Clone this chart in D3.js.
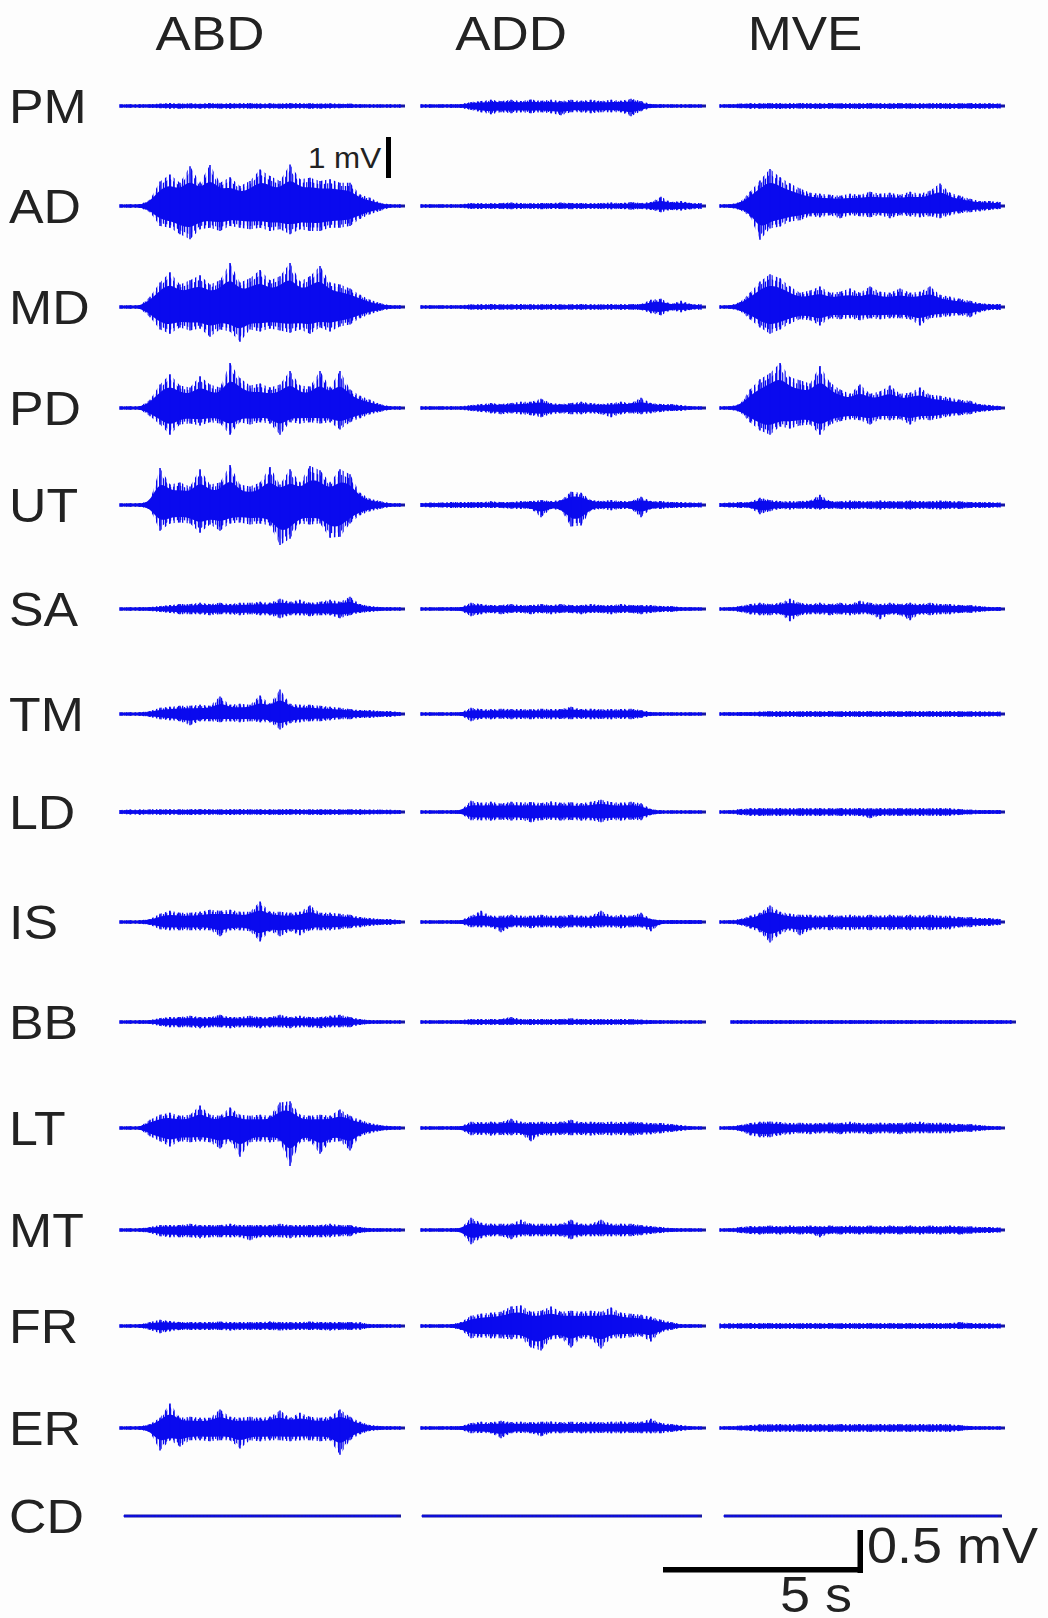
<!DOCTYPE html>
<html>
<head>
<meta charset="utf-8">
<script src="https://cdn.jsdelivr.net/npm/d3@7"></script>
<style>
html, body { margin: 0; padding: 0; background: #fdfdfd; }
svg { display: block; }
text { font-family: "Liberation Sans", Arial, sans-serif; fill: #222; }
</style>
</head>
<body>
<svg id="chart" width="1048" height="1618"></svg>
<script>
// tasks (columns) and muscles (rows)
var tasks = ["ABD", "ADD", "MVE"];
var muscles = ["PM", "AD", "MD", "PD", "UT", "SA", "TM", "LD", "IS", "BB", "LT", "MT", "FR", "ER", "CD"];

// EMG envelope: peak amplitude (µV) in 0.25 s windows,
// hi = positive peaks, lo = negative peaks, one entry per task
var PM = [
  {hi: [40,40,40,40,60,75,60,70,55,75,60,70,65,75,60,70,60,75,65,70,60,70,55,60,40,40,40,40,40],
   lo: [40,40,40,40,55,65,70,60,70,60,65,70,60,70,65,60,70,65,60,70,65,60,55,50,40,40,40,40,40]},
  {hi: [40,40,40,40,50,100,125,150,125,150,125,160,130,150,120,150,130,155,125,150,130,175,125,50,40,40,40,40,40],
   lo: [40,40,40,40,50,100,150,200,150,175,150,175,150,175,225,150,150,175,150,150,150,250,125,50,40,40,40,40,40]},
  {hi: [40,40,60,70,65,75,70,65,75,70,65,75,70,70,65,75,70,65,75,70,65,70,75,65,70,75,65,70,60],
   lo: [40,40,55,65,70,65,75,70,65,70,75,65,70,70,75,65,70,75,65,70,70,65,70,75,65,70,70,65,60]}
];
var AD = [
  {hi: [40,40,40,150,600,770,570,970,570,1000,570,700,490,610,890,730,610,1010,650,690,610,650,570,570,280,200,80,40,40],
   lo: [40,40,40,150,490,530,690,810,570,530,610,490,530,570,530,610,570,690,570,610,610,530,530,490,320,200,120,40,40]},
  {hi: [40,40,40,40,40,75,70,65,75,85,75,65,75,75,85,75,75,65,75,85,75,100,75,100,225,100,125,75,75],
   lo: [40,40,40,40,40,75,75,70,75,80,75,70,80,75,75,80,75,70,75,80,75,90,75,100,150,100,110,80,75]},
  {hi: [40,40,100,350,625,900,700,550,425,325,300,275,250,300,275,350,300,325,275,350,300,375,550,325,250,175,125,125,100],
   lo: [40,40,100,250,825,550,500,375,350,250,275,225,300,225,250,275,225,300,225,250,275,250,300,225,175,150,125,100,75]}
];
var MD = [
  {hi: [40,40,40,250,600,850,550,650,775,550,650,1075,600,700,900,650,750,1075,625,750,1000,600,550,450,300,175,100,40,40],
   lo: [40,40,40,250,550,650,500,575,525,725,550,600,850,550,600,525,575,625,550,650,500,600,475,425,275,175,100,50,40]},
  {hi: [40,40,40,40,40,65,65,75,65,65,75,65,65,75,65,65,75,65,65,75,65,75,75,175,200,75,150,75,65],
   lo: [40,40,40,40,40,65,70,65,70,65,70,65,70,65,70,65,70,65,70,65,70,70,75,150,200,80,125,70,65]},
  {hi: [40,40,125,350,625,800,700,500,350,400,500,350,375,450,350,500,375,350,450,350,375,500,300,250,200,150,100,75,75],
   lo: [40,40,100,300,500,650,550,400,300,325,450,275,300,275,325,275,300,275,275,300,450,275,250,225,200,250,125,75,75]}
];
var PD = [
  {hi: [40,40,40,200,575,825,550,500,775,575,500,1100,725,550,600,500,575,900,550,525,900,500,900,450,300,200,100,40,40],
   lo: [40,40,40,200,400,650,400,375,425,350,375,650,350,400,350,375,650,350,375,350,375,350,525,350,250,150,100,40,40]},
  {hi: [40,40,40,40,40,75,100,125,100,125,150,150,225,125,100,125,150,125,100,125,150,125,250,125,100,100,75,40,40],
   lo: [40,40,40,40,40,75,100,125,150,125,150,175,225,150,125,150,150,125,150,225,150,125,150,125,100,75,75,40,40]},
  {hi: [40,40,100,450,700,850,1100,750,675,600,1025,625,450,350,575,350,400,550,350,375,500,325,300,250,200,175,100,75,50],
   lo: [40,40,100,350,550,650,450,500,425,400,650,400,325,275,300,400,275,300,275,400,275,300,250,200,175,150,100,75,50]}
];
var UT = [
  {hi: [40,40,40,100,900,500,550,450,875,500,550,975,500,450,550,925,500,875,550,950,850,550,875,750,300,150,100,50,40],
   lo: [40,40,40,100,625,450,425,450,675,475,625,450,425,475,450,500,975,825,450,475,450,800,775,450,250,150,100,50,40]},
  {hi: [50,60,60,75,75,75,75,90,75,75,100,100,125,100,125,325,300,125,100,125,100,100,200,100,100,75,75,60,60],
   lo: [50,60,60,75,75,75,75,75,75,90,100,100,300,100,125,525,500,125,100,125,100,100,300,100,100,75,75,60,60]},
  {hi: [50,60,75,75,175,125,100,90,100,110,250,100,90,110,100,90,110,100,90,110,100,90,110,100,90,75,75,70,60],
   lo: [50,60,75,75,225,150,100,110,90,100,110,90,100,110,90,100,110,90,100,110,90,100,110,90,100,75,75,70,60]}
];
var SA = [
  {hi: [40,40,40,50,75,100,125,125,150,125,150,125,150,150,175,150,250,175,225,150,175,225,175,300,125,75,50,40,40],
   lo: [40,40,40,50,75,100,125,125,125,150,125,125,150,125,150,150,225,150,150,175,150,150,225,150,100,75,50,40,40]},
  {hi: [40,40,40,40,50,150,125,100,100,125,100,100,125,100,125,100,100,125,100,100,125,100,100,100,75,75,50,40,40],
   lo: [40,40,40,40,50,175,125,100,125,100,100,125,100,125,100,100,125,100,100,125,100,100,125,100,75,75,50,40,40]},
  {hi: [40,40,75,125,150,125,150,250,150,125,150,125,150,125,200,150,125,150,125,150,125,150,125,125,100,100,75,50,50],
   lo: [40,40,75,125,150,150,125,300,150,125,125,150,125,150,125,125,250,125,150,275,125,150,125,125,100,100,75,50,50]}
];
var TM = [
  {hi: [40,40,40,75,150,175,200,200,225,200,425,225,250,225,450,250,600,250,225,225,200,175,150,125,100,100,75,75,50],
   lo: [40,40,40,75,125,150,175,275,175,175,200,175,200,175,200,200,375,225,200,175,175,150,125,125,100,100,75,75,50]},
  {hi: [40,40,40,40,40,150,125,115,130,120,125,115,130,120,125,175,120,130,115,125,120,130,100,50,40,40,40,40,40],
   lo: [40,40,40,40,40,175,120,130,115,125,120,130,115,125,120,130,115,125,120,130,115,125,100,50,40,40,40,40,40]},
  {hi: [40,40,50,50,60,75,70,75,70,75,70,75,70,75,70,75,70,75,70,75,70,75,70,75,70,70,65,60,60],
   lo: [40,40,50,50,60,70,75,70,75,70,75,70,75,70,75,70,75,70,75,70,75,70,75,70,75,70,65,60,60]}
];
var LD = [
  {hi: [50,60,60,65,70,70,65,70,75,70,65,70,75,70,70,65,70,75,70,65,70,70,65,70,65,60,60,55,50],
   lo: [50,60,65,60,70,65,70,75,70,65,70,75,70,65,70,70,75,70,65,70,75,70,70,65,70,60,55,55,50]},
  {hi: [40,40,40,40,50,275,225,250,210,250,230,245,220,255,225,240,215,250,300,245,225,250,215,75,40,40,40,40,40],
   lo: [40,40,40,40,50,200,200,210,190,205,195,250,200,190,210,195,205,200,250,195,210,190,200,75,40,40,40,40,40]},
  {hi: [40,40,75,90,100,90,100,90,100,90,100,90,100,90,100,90,100,90,100,90,100,90,100,90,75,60,50,50,50],
   lo: [40,40,75,90,100,90,100,90,100,90,100,90,100,90,100,150,100,90,100,90,100,90,100,90,75,60,50,50,50]}
];
var IS = [
  {hi: [40,40,40,75,200,275,225,225,250,300,275,300,250,250,500,250,250,225,250,400,225,225,200,175,125,100,75,75,50],
   lo: [40,40,40,75,175,200,200,200,200,200,350,200,200,225,475,225,350,225,325,200,200,200,175,150,125,100,75,75,50]},
  {hi: [40,40,40,40,50,150,275,150,150,175,150,150,175,150,150,175,150,150,275,150,175,150,225,75,50,50,50,50,50],
   lo: [40,40,40,40,50,125,125,125,250,125,125,150,125,125,150,125,125,150,125,125,150,125,125,225,50,50,50,50,50]},
  {hi: [40,40,75,150,225,400,250,200,175,175,150,175,150,175,150,175,150,175,150,175,150,175,150,150,125,125,100,100,75],
   lo: [40,40,75,150,250,500,300,200,325,200,175,200,175,200,175,200,175,200,175,200,175,200,175,175,125,125,100,100,75]}
];
var BB = [
  {hi: [40,40,40,50,100,125,125,150,125,125,175,125,125,150,125,125,175,125,150,125,125,150,175,125,75,50,40,40,40],
   lo: [40,40,40,50,100,125,125,125,150,125,125,150,125,125,150,125,125,150,125,125,150,125,125,125,75,50,40,40,40]},
  {hi: [40,40,40,40,50,75,75,75,75,125,75,75,75,75,75,90,75,75,75,75,75,75,60,50,40,40,40,40,40],
   lo: [40,40,40,40,50,70,75,70,75,75,70,75,70,75,70,75,70,75,70,75,70,70,60,50,40,40,40,40,40]},
  {hi: [40,45,50,45,50,45,50,45,50,45,50,45,50,45,50,45,50,45,50,45,50,45,50,45,50,45,50,45,40],
   lo: [40,45,50,45,50,45,50,45,50,45,50,45,50,45,50,45,50,45,50,45,50,45,50,45,50,45,50,45,40]}
];
var LT = [
  {hi: [40,40,40,200,325,375,300,325,550,325,300,500,325,300,325,300,625,650,325,300,325,300,450,300,200,125,75,50,40],
   lo: [40,40,40,200,325,450,325,350,325,350,500,325,700,350,325,350,325,925,350,325,625,350,325,550,200,125,75,50,40]},
  {hi: [40,40,40,40,50,150,140,155,145,225,150,140,155,145,150,200,145,155,140,150,145,155,140,125,125,100,75,40,40],
   lo: [40,40,40,40,50,175,165,180,170,175,165,325,170,180,165,175,170,180,165,175,170,180,165,150,125,100,75,40,40]},
  {hi: [40,40,75,125,150,160,145,120,130,115,125,135,120,150,125,115,130,120,125,135,150,120,130,115,100,100,75,50,40],
   lo: [40,40,75,175,225,225,175,150,125,150,125,125,150,125,125,150,125,125,150,125,125,125,125,125,100,100,75,50,40]}
];
var MT = [
  {hi: [40,40,40,75,125,125,125,150,125,125,125,150,125,125,125,125,150,125,125,125,125,150,125,125,75,50,40,40,40],
   lo: [40,40,40,75,150,175,175,175,200,175,175,175,175,250,175,175,175,200,175,175,175,175,150,150,75,50,40,40,40]},
  {hi: [40,40,40,40,50,300,175,150,150,150,250,150,150,150,150,250,150,150,250,150,150,150,125,100,75,50,40,40,40],
   lo: [40,40,40,40,50,350,200,150,150,225,150,150,150,150,150,225,150,150,150,150,150,150,125,100,75,50,40,40,40]},
  {hi: [40,40,75,100,90,110,90,110,90,110,90,110,90,110,90,110,90,110,90,110,90,110,90,110,90,90,75,75,60],
   lo: [40,40,75,100,110,90,110,90,110,90,175,90,110,90,110,90,110,90,110,90,110,90,110,90,110,90,75,75,60]}
];
var FR = [
  {hi: [40,40,40,100,150,125,100,100,100,100,110,100,100,100,100,110,100,100,100,110,100,100,100,100,90,50,40,40,40],
   lo: [40,40,40,100,175,125,100,100,100,100,100,110,100,100,100,100,110,100,100,100,100,110,100,100,90,50,40,40,40]},
  {hi: [40,40,40,40,100,250,300,325,350,475,500,350,375,475,350,375,350,375,350,450,325,300,275,225,150,100,50,40,40],
   lo: [40,40,40,40,100,300,275,300,300,325,300,525,600,325,300,525,300,325,550,300,300,275,250,375,150,100,50,40,40]},
  {hi: [60,65,70,75,70,75,70,75,70,75,70,75,70,75,70,75,70,75,70,75,70,75,70,75,100,75,70,65,60],
   lo: [60,65,70,70,75,70,75,70,75,70,75,70,75,70,75,70,75,70,75,70,75,70,75,70,75,70,70,65,60]}
];
var ER = [
  {hi: [40,40,40,100,250,600,250,275,250,250,450,275,250,275,250,275,425,250,375,275,250,275,450,275,150,75,50,40,40],
   lo: [40,40,40,100,550,300,450,300,300,325,300,300,500,300,325,300,300,325,300,300,325,300,650,300,150,75,50,40,40]},
  {hi: [40,40,40,40,50,125,150,140,175,145,155,140,150,160,140,150,145,155,140,150,160,145,150,225,125,100,75,40,40],
   lo: [40,40,40,40,50,125,120,130,250,125,120,130,200,125,130,120,125,130,120,125,130,120,125,125,125,100,75,40,40]},
  {hi: [40,40,60,75,90,90,100,90,100,90,100,90,100,90,100,90,100,90,100,90,100,90,100,90,75,50,40,40,40],
   lo: [40,40,60,75,90,100,90,100,90,100,90,100,90,100,90,100,90,100,90,100,90,100,90,100,75,50,40,40,40]}
];
var CD = [
  {hi: [15,15,15,15,15,15,15,15,15,15,15,15,15,15,15,15,15,15,15,15,15,15,15,15,15,15,15,15,15],
   lo: [15,15,15,15,15,15,15,15,15,15,15,15,15,15,15,15,15,15,15,15,15,15,15,15,15,15,15,15,15]},
  {hi: [15,15,15,15,15,15,15,15,15,15,15,15,15,15,15,15,15,15,15,15,15,15,15,15,15,15,15,15,15],
   lo: [15,15,15,15,15,15,15,15,15,15,15,15,15,15,15,15,15,15,15,15,15,15,15,15,15,15,15,15,15]},
  {hi: [15,15,15,15,15,15,15,15,15,15,15,15,15,15,15,15,15,15,15,15,15,15,15,15,15,15,15,15,15],
   lo: [15,15,15,15,15,15,15,15,15,15,15,15,15,15,15,15,15,15,15,15,15,15,15,15,15,15,15,15,15]}
];

var traces = {PM: PM, AD: AD, MD: MD, PD: PD, UT: UT, SA: SA, TM: TM, LD: LD,
              IS: IS, BB: BB, LT: LT, MT: MT, FR: FR, ER: ER, CD: CD};

var sampleStep = 0.25,   // s between envelope samples
    traceDur = 7.125;    // s shown per trace

// layout
var colX = [120, 421, 720],
    traceW = 285,
    headerX = [210, 511, 805],
    labelX = 9,
    rowY = [106, 206, 307, 408, 505, 609, 714, 812, 922, 1022, 1128, 1230, 1326, 1428, 1516],
    // a few traces sit off the common grid
    spanFix = {BB: [null, null, [731, 1016]], CD: [[124, 401], [422, 702], [724, 1002]]};

var blue = "#0a0aee",
    navy = "#1717a3";

var svg = d3.select("#chart");
svg.append("rect").attr("width", 1048).attr("height", 1618).attr("fill", "#fdfdfd");

// vertical hatching stands in for the many thin spikes above the dense core
var defs = svg.append("defs");
function hatch(id, w, stripes) {
    var p = defs.append("pattern").attr("id", id)
        .attr("patternUnits", "userSpaceOnUse")
        .attr("width", w).attr("height", 8);
    stripes.forEach(function (s) {
        p.append("rect").attr("x", s[0]).attr("y", 0)
            .attr("width", s[1]).attr("height", 8).attr("fill", blue);
    });
}
hatch("sparse", 13, [[0, 1.3], [4.6, 1.1], [8.9, 1.5]]);
hatch("dense", 7, [[1.8, 1.4], [5.1, 1.2]]);

// µV -> px (the "1 mV" bar is 41 px)
var amp = d3.scaleLinear().domain([0, 1000]).range([0, 41]);

// the figure's lettering is slightly wide, so stretch it a little
function label(x, y, str, size, anchor) {
    return svg.append("text")
        .attr("transform", "translate(" + x + "," + y + ") scale(1.08,1)")
        .attr("font-size", size)
        .attr("text-anchor", anchor || "start")
        .text(str);
}

function band(x, frac, curve) {
    return d3.area()
        .x(function (d) { return x(d.t); })
        .y0(function (d) { return amp(d.lo * frac); })
        .y1(function (d) { return -amp(d.hi * frac); })
        .curve(curve);
}

tasks.forEach(function (t, i) {
    label(headerX[i], 50, t, 49, "middle");
});

muscles.forEach(function (m, r) {
    var y0 = rowY[r];
    label(labelX, y0 + 17, m, 48);

    traces[m].forEach(function (tr, c) {
        var span = (spanFix[m] && spanFix[m][c]) || [colX[c], colX[c] + traceW],
            x = d3.scaleLinear().domain([0, traceDur]).range(span),
            pts = tr.hi.map(function (h, i) {
                return {t: i * sampleStep, hi: h, lo: tr.lo[i] || 0};
            }),
            g = svg.append("g").attr("transform", "translate(0," + y0 + ")");

        // baseline
        g.append("line")
            .attr("x1", span[0]).attr("x2", span[1])
            .attr("stroke", navy).attr("stroke-width", 3);

        // outer peaks, thinning toward the envelope
        g.append("path").datum(pts).attr("fill", "url(#sparse)")
            .attr("d", band(x, 1, d3.curveLinear));
        g.append("path").datum(pts).attr("fill", "url(#dense)")
            .attr("d", band(x, 0.86, d3.curveLinear));
        // solid core
        g.append("path").datum(pts).attr("fill", blue)
            .attr("d", band(x, 0.68, d3.curveBasis));

        // largest peak in each window
        g.selectAll("line.spike")
            .data(pts)
            .enter().append("line")
            .attr("class", "spike")
            .attr("x1", function (d) { return x(d.t); })
            .attr("x2", function (d) { return x(d.t); })
            .attr("y1", function (d) { return -amp(d.hi); })
            .attr("y2", function (d) { return amp(d.lo); })
            .attr("stroke", blue)
            .attr("stroke-width", 1.5);
    });
});

// scale bars
var xs = d3.scaleLinear().domain([0, traceDur]).range([0, traceW]);

svg.append("rect").attr("x", 386).attr("y", 137)
    .attr("width", 5).attr("height", amp(1000)).attr("fill", "#000");
label(308, 168, "1 mV", 29);

var barRight = 863;
svg.append("rect").attr("x", barRight - xs(5)).attr("y", 1567)
    .attr("width", xs(5)).attr("height", 5.5).attr("fill", "#000");
svg.append("rect").attr("x", barRight - 5.5).attr("y", 1530)
    .attr("width", 5.5).attr("height", 43).attr("fill", "#000");
label(867, 1563, "0.5 mV", 50);
label(780, 1612, "5 s", 50);
</script>
</body>
</html>
